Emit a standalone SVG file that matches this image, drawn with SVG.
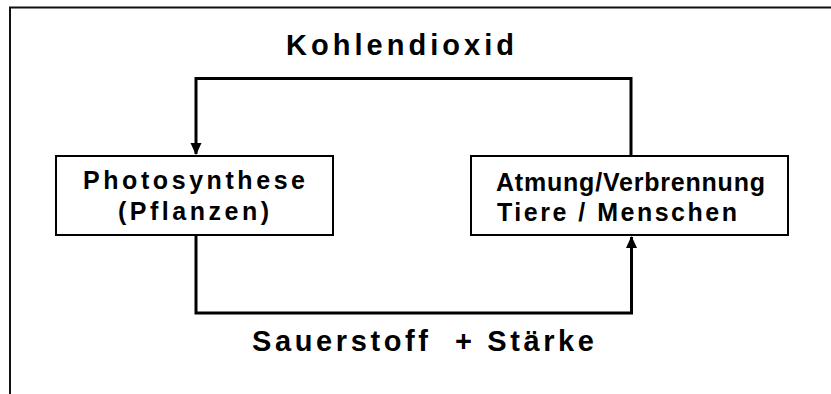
<svg xmlns="http://www.w3.org/2000/svg" width="831" height="394" viewBox="0 0 831 394">
<style>
.box{fill:#fff;stroke:#000;stroke-width:2}
.con{fill:none;stroke:#000;stroke-width:3}
.lbl{font-family:"Liberation Sans",Arial,sans-serif;font-weight:bold;fill:#000}
</style>
<defs>
<marker id="arr" viewBox="0 0 12 12" refX="11" refY="6" markerWidth="12" markerHeight="12" markerUnits="userSpaceOnUse" orient="auto">
<path d="M0,0.5 L12,6 L0,11.5 Z" fill="#000"/>
</marker>
</defs>
<rect width="831" height="394" fill="#fff"/>
<path d="M10,394 V7.5 H831" fill="none" stroke="#111" stroke-width="2"/>
<g id="connectors">
<path class="con" d="M631,235 V78.5 H196 V154" marker-end="url(#arr)"/>
<path class="con" d="M196,235 V313 H631.5 V237" marker-end="url(#arr)"/>
</g>
<g id="photosynthese">
<rect class="box" x="56" y="156" width="277" height="79"/>
<text class="lbl" x="83" y="189" font-size="25" textLength="222" lengthAdjust="spacing">Photosynthese</text>
<text class="lbl" x="118" y="220" font-size="25" textLength="151" lengthAdjust="spacing">(Pflanzen)</text>
</g>
<g id="atmung">
<rect class="box" x="471" y="156" width="317" height="79"/>
<text class="lbl" x="496" y="191" font-size="25" textLength="269" lengthAdjust="spacing">Atmung/Verbrennung</text>
<text class="lbl" x="497" y="221" font-size="25" textLength="240" lengthAdjust="spacing">Tiere / Menschen</text>
</g>
<g id="kohlendioxid">
<text class="lbl" x="286" y="55" font-size="29" textLength="228" lengthAdjust="spacing">Kohlendioxid</text>
</g>
<g id="sauerstoff">
<text class="lbl" x="252" y="351" font-size="29" textLength="342" lengthAdjust="spacing" xml:space="preserve">Sauerstoff  + Stärke</text>
</g>
</svg>
